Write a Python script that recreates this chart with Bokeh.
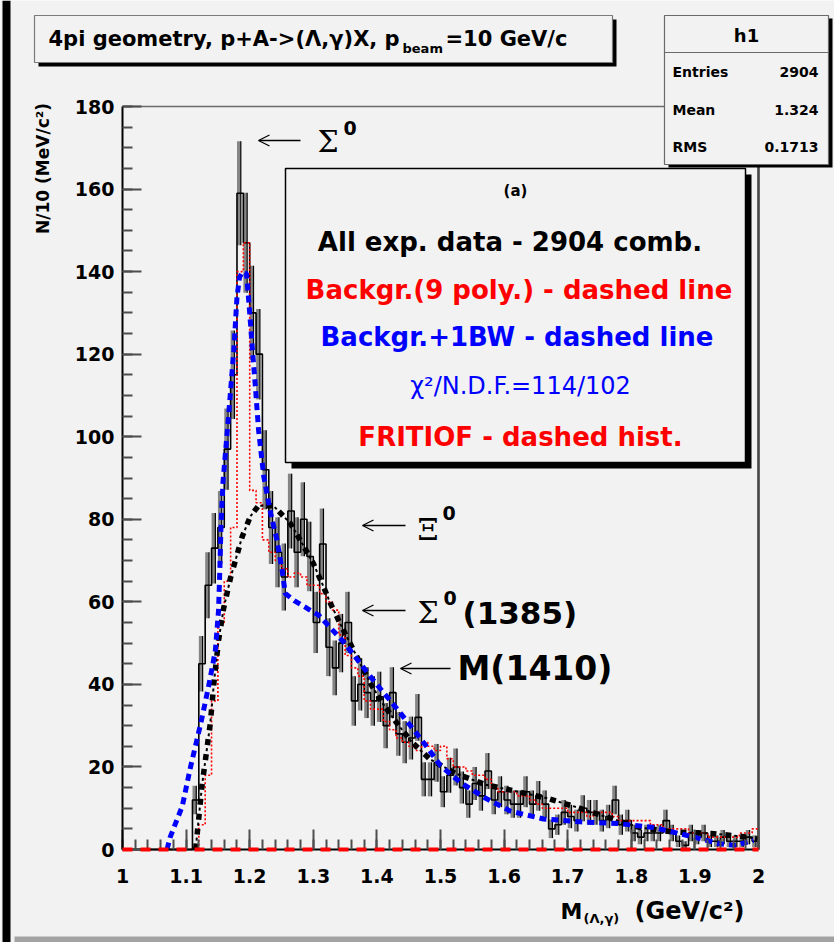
import math
from bokeh.plotting import figure
from bokeh.models import Range1d, FixedTicker, LinearAxis, Label, Arrow, OpenHead
from bokeh.embed import file_html
from bokeh.resources import INLINE

# ---------------- data ----------------
bin_lo = 1.0
bin_w = 0.01
data_counts = [
    0, 0, 0, 0, 0, 0, 0, 0, 0, 0,          # 1.00-1.09
    0, 12, 45, 64, 73, 78, 97, 115, 159, 147,  # 1.10-1.19
    130, 120, 92, 78, 72, 66, 82, 72, 80, 71,  # 1.20-1.29
    55, 74, 49, 44, 50, 55, 36, 40, 38, 36,    # 1.30-1.39
    37, 30, 38, 28, 26, 27, 32, 17, 17, 21,    # 1.40-1.49
    14, 18, 20, 15, 11, 16, 13, 19, 12, 14,    # 1.50-1.59
    12, 11, 11, 14, 11, 13, 11, 5, 6, 9,       # 1.60-1.69
    8, 7, 10, 9, 9, 7, 8, 12, 6, 7,            # 1.70-1.79
    4, 3, 4, 4, 4, 7, 4, 2, 1, 4,              # 1.80-1.89
    3, 4, 2, 2, 3, 2, 2, 2, 3, 2,              # 1.90-1.99
]
fritiof_counts = [
    0, 0, 0, 0, 0, 0, 0, 0, 0, 0,
    0, 0, 6, 18, 36, 55, 65, 78, 140, 147,
    87, 84, 75, 72, 70, 68, 66, 67, 66, 64,
    64, 62, 60, 58, 52, 47, 44, 42, 36, 34,
    34, 31, 29, 27, 26, 25, 24, 26, 25, 24,
    25, 22, 20, 20, 19, 18, 18, 17, 15, 14,
    14, 14, 13, 13, 12, 11, 10, 10, 10, 10,
    9, 9, 9, 8, 9, 9, 9, 8, 7, 7,
    7, 7, 7, 6, 6, 5, 5, 5, 5, 4,
    4, 4, 3, 3, 3, 3, 3, 4, 4, 5,
]
# background (9 poly.) drawn at zero level
bg9_x = [1.0, 2.0]
bg9_y = [0.0, 0.0]
# black dashed curve
poly_x = [1.115, 1.125, 1.138, 1.144, 1.151, 1.159, 1.170, 1.179, 1.188, 1.201, 1.214, 1.237,
          1.264, 1.283, 1.300, 1.314, 1.327, 1.343, 1.358, 1.374, 1.390, 1.409, 1.432, 1.455,
          1.484, 1.524, 1.571, 1.613, 1.668, 1.715, 1.764, 1.814, 1.869, 1.925, 1.977, 2.000]
poly_y = [0.0, 15.5, 30.5, 40.8, 50.6, 58.4, 65.9, 70.8, 75.7, 80.7, 83.3, 83.3,
          79.0, 74.0, 69.3, 64.4, 59.6, 54.5, 49.9, 45.0, 40.2, 35.4, 30.5, 26.0,
          21.8, 18.4, 15.7, 14.3, 12.4, 10.2, 7.7, 5.3, 4.2, 3.9, 3.1, 2.5]
# blue dashed curve (Backgr.+1BW)
bw_x = [1.070, 1.075, 1.094, 1.107, 1.123, 1.136, 1.146, 1.151, 1.153, 1.155, 1.158, 1.167,
        1.175, 1.180, 1.184, 1.189, 1.195, 1.199, 1.204, 1.209, 1.214, 1.222, 1.233, 1.243,
        1.251, 1.256, 1.270, 1.309, 1.348, 1.395, 1.432, 1.463, 1.479, 1.500, 1.531, 1.571,
        1.610, 1.662, 1.720, 1.778, 1.833, 1.888, 1.938, 1.964, 1.992]
bw_y = [0.0, 3.0, 10.5, 20.0, 30.5, 40.0, 48.2, 57.9, 67.6, 79.0, 89.0, 105.5,
        120.9, 133.8, 138.6, 140.0, 139.5, 132.0, 121.7, 112.0, 101.5, 90.5, 81.4, 74.9,
        67.6, 62.0, 60.3, 56.7, 50.2, 40.9, 34.0, 28.0, 24.8, 20.3, 16.3, 12.4,
        9.3, 7.4, 6.7, 6.3, 5.4, 3.4, 1.4, 1.0, 2.2]

x_ticks = [1.0, 1.1, 1.2, 1.3, 1.4, 1.5, 1.6, 1.7, 1.8, 1.9, 2.0]
x_tick_labels = ["1", "1.1", "1.2", "1.3", "1.4", "1.5", "1.6", "1.7", "1.8", "1.9", "2"]
y_ticks = [0, 20, 40, 60, 80, 100, 120, 140, 160, 180]
y_tick_labels = ["0", "20", "40", "60", "80", "100", "120", "140", "160", "180"]

stats_names = ["Entries", "Mean", "RMS"]
stats_values = ["2904", "1.324", "0.1713"]

# ---------------- layout (pixels of the 834x942 page) ----------------
W, H = 834, 942
FL, FR, FT, FB = 122, 758, 106, 849          # histogram frame in page pixels
X0, X1, Y0, Y1 = 1.0, 2.0, 0.0, 180.0        # histogram data limits
sx = (X1 - X0) / (FR - FL)
sy = (Y1 - Y0) / (FB - FT)
mx_range = Range1d(X0 - FL * sx, X1 + (W - FR) * sx)
my_range = Range1d(Y0 - (H - FB) * sy, Y1 + FT * sy)

BG = "#f2f2f2"
p = figure(width=W, height=H, x_range=Range1d(0, W), y_range=Range1d(H, 0),
           x_axis_type=None, y_axis_type=None,
           output_backend="svg", toolbar_location=None, min_border=0,
           background_fill_color=BG, border_fill_color=BG, outline_line_alpha=0)
p.grid.visible = False
p.extra_x_ranges = {"m": mx_range}
p.extra_y_ranges = {"m": my_range}

FONT = "DejaVu Sans"


def box(l, t, r, b, fill, line=None, lw=1.0):
    p.quad(left=[l], right=[r], top=[t], bottom=[b], fill_color=fill,
           line_color=(line or fill), line_alpha=(1.0 if line else 0.0), line_width=lw)


def label(px, py, text, size, color="black", bold=True, align="left", font=FONT,
          angle=0.0, baseline="middle"):
    p.add_layout(Label(x=px, y=py, text=text, text_font=font,
                       text_font_size=f"{size}px", text_font_style=("bold" if bold else "normal"),
                       text_color=color, text_align=align, text_baseline=baseline, angle=angle))


def arrow(px_from, px_to, py):
    p.add_layout(Arrow(end=OpenHead(size=11, line_width=1.3, line_color="black"),
                       x_start=px_from, y_start=py, x_end=px_to, y_end=py,
                       line_width=1.3, line_color="black"))


# page decorations
box(2, 0, 10, H, "black")
box(14, H - 6, W, H, "#a3a3a3")

# histogram frame (top and right edges)
p.line([FL, FR, FR], [FT, FT, FB], line_color="#6a6a6a", line_width=1.5)
p.line([FR, FR], [FT, FB], line_color="#444444", line_width=2.5)

# ---------------- axes (library axes on the data ranges) ----------------
xa = LinearAxis(x_range_name="m", y_range_name="m", fixed_location=Y0, bounds=(X0, X1))
ya = LinearAxis(x_range_name="m", y_range_name="m", fixed_location=X0, bounds=(Y0, Y1))
xa.ticker = FixedTicker(ticks=x_ticks, minor_ticks=[round(X0 + 0.02 * i, 2) for i in range(51)])
ya.ticker = FixedTicker(ticks=y_ticks, minor_ticks=list(range(0, 181, 5)))
xa.major_label_overrides = {t: l for t, l in zip(x_ticks, x_tick_labels)}
ya.major_label_overrides = {t: l for t, l in zip(y_ticks, y_tick_labels)}
for ax in (xa, ya):
    ax.axis_line_color = "black"
    ax.axis_line_width = 2
    ax.major_tick_line_color = "#4d4d4d"
    ax.major_tick_line_width = 2
    ax.minor_tick_line_color = "#4d4d4d"
    ax.minor_tick_line_width = 2
    ax.major_tick_out = 0
    ax.minor_tick_out = 0
    ax.major_label_text_font = FONT
    ax.major_label_text_font_style = "bold"
    ax.major_label_text_font_size = "19px"
    ax.major_label_text_color = "black"
xa.major_tick_in = 20
xa.minor_tick_in = 10
xa.major_label_standoff = 19
ya.major_tick_in = 19
ya.minor_tick_in = 10
ya.major_label_standoff = 8
p.add_layout(xa, "below")
p.add_layout(ya, "left")

# ---------------- histogram ----------------
N = len(data_counts)
edges = [bin_lo + i * bin_w for i in range(N + 1)]
centers = [bin_lo + (i + 0.5) * bin_w for i in range(N)]

ex, ey0, ey1 = [], [], []
for c, n in zip(centers, data_counts):
    if n > 0:
        e = math.sqrt(n)
        ex.append(c)
        ey0.append(n - e)
        ey1.append(n + e)

R = dict(x_range_name="m", y_range_name="m")
p.segment(x0=[x - 0.0022 for x in ex], y0=ey0, x1=[x - 0.0022 for x in ex], y1=ey1,
          line_color="#858585", line_width=3.5, **R)
p.segment(x0=[x + 0.001 for x in ex], y0=ey0, x1=[x + 0.001 for x in ex], y1=ey1,
          line_color="black", line_width=1.2, **R)
p.step(x=edges, y=data_counts + [data_counts[-1]], mode="after", line_color="black",
       line_width=1.6, **R)

# FRITIOF dashed histogram
p.step(x=edges, y=fritiof_counts + [fritiof_counts[-1]], mode="after",
       line_color="#ff0000", line_width=1.6, line_dash="2 2", **R)

# black dashed curve (square dashes with thin dashes between)
p.line(poly_x, poly_y, line_color="black", line_width=5.5, line_dash="6 9", **R)
p.line(poly_x, poly_y, line_color="black", line_width=2, line_dash="3 12",
       line_dash_offset=-9, **R)

# blue dashed curve
p.line(bw_x, bw_y, line_color="#0000ff", line_width=5, line_dash="7 5", **R)

# red dashed background at zero
p.line(bg9_x, bg9_y, line_color="#ff0000", line_width=4, line_dash="10 8",
       level="overlay", **R)

# ---------------- title box ----------------
box(38, 19, 616, 66, "black")
box(34, 15, 612, 62, BG, line="#7a7a7a", lw=1.2)
label(48, 38, "4pi geometry, p+A->(\u039b,\u03b3)X, p", 21)
label(402, 48, "beam", 13)
label(445, 38, "=10 GeV/c", 21)

# ---------------- stats box ----------------
box(668, 18, 832, 167, "black")
box(664, 15, 828, 164, BG, line="#6a6a6a", lw=1.2)
p.line([664, 828], [52, 52], line_color="#6a6a6a", line_width=1.2)
label(746, 35, "h1", 18, align="center")
for nm, vl, yy in zip(stats_names, stats_values, [71, 109, 146]):
    label(672, yy, nm, 14)
    label(818, yy, vl, 14, align="right")

# ---------------- text box (a) ----------------
box(291, 174, 751, 468, "black")
box(285, 168, 745, 462, BG, line="black", lw=1.5)
label(515, 190, "(a)", 15, align="center")
label(514, 241, "All exp. data  - 2904 comb.", 26, align="center")
label(523, 289, "Backgr.(9 poly.)  - dashed line", 26, color="#ff0000", align="center")
label(521, 336, "Backgr.+1BW  - dashed line", 26, color="#0000ff", align="center")
label(520, 385, "\u03c7\u00b2/N.D.F.=114/102", 24, color="#0000ff", bold=False, align="center")
label(520, 436, "FRITIOF - dashed hist.", 26, color="#ff0000", align="center")

# ---------------- peak annotations ----------------
SERIF = "DejaVu Serif"
arrow(300, 258, 140)
label(317, 141, "\u03a3", 30, bold=False, font=SERIF)
label(343, 127, "0", 19)

arrow(405, 362, 525)
label(417, 529, "\u039e", 30, bold=False, font=SERIF)
label(442, 512, "0", 19)

arrow(405, 362, 610)
label(417, 612, "\u03a3", 30, bold=False, font=SERIF)
label(443, 597, "0", 19)
label(462, 612, "(1385)", 31)

arrow(450, 400, 668)
label(457, 668, "M(1410)", 33)

# ---------------- axis titles ----------------
label(42, 168, "N/10 (MeV/c\u00b2)", 17, align="center", angle=math.pi / 2)
label(560, 911, "M", 22)
label(583, 918, "(\u039b,\u03b3)", 13)
label(634, 910, "(GeV/c\u00b2)", 24)

open("out.html", "w").write(file_html(p, INLINE))
